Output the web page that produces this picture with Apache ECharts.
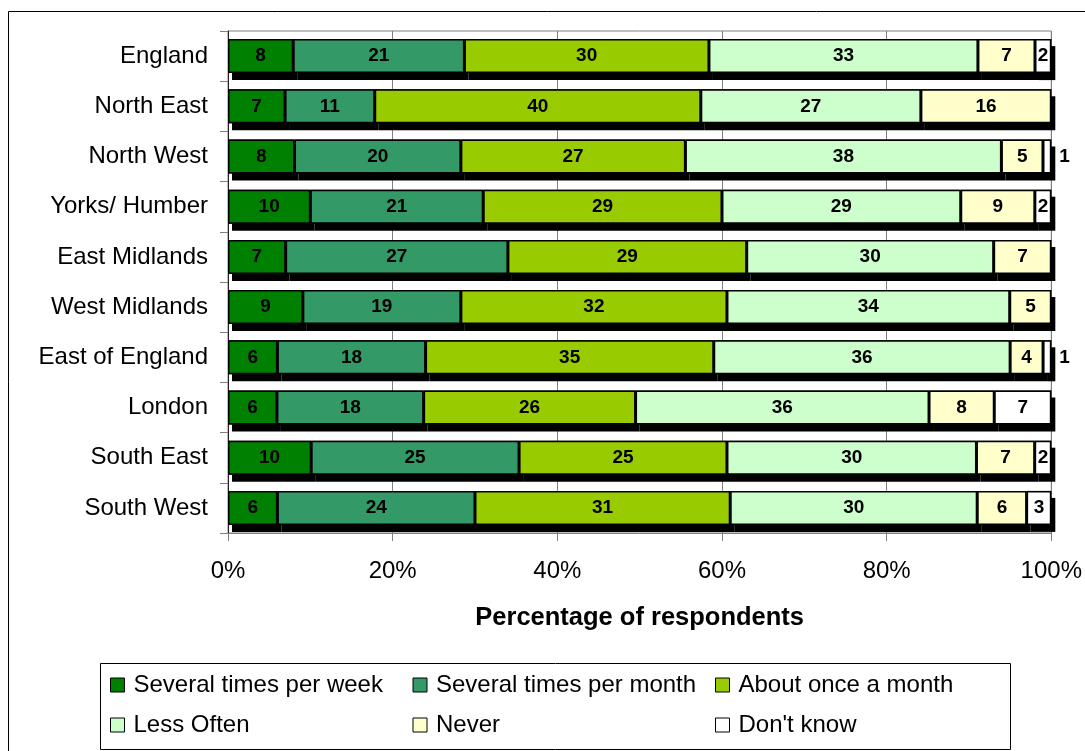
<!DOCTYPE html>
<html>
<head>
<meta charset="utf-8">
<script src="https://cdn.jsdelivr.net/npm/echarts@6/dist/echarts.min.js"></script>
<style>
  html, body { margin: 0; padding: 0; background: #fff; }
  #chart { width: 1085px; height: 751px; }
</style>
</head>
<body>
<div id="chart"></div>
<script>
// regions, top to bottom
const regions = ['England', 'North East', 'North West', 'Yorks/ Humber', 'East Midlands',
  'West Midlands', 'East of England', 'London', 'South East', 'South West'];

// percentages as labelled on the bars (null = no segment)
const severalWeek  = [8, 7, 8, 10, 7, 9, 6, 6, 10, 6];
const severalMonth = [21, 11, 20, 21, 27, 19, 18, 18, 25, 24];
const onceMonth    = [30, 40, 27, 29, 29, 32, 35, 26, 25, 31];
const lessOften    = [33, 27, 38, 29, 30, 34, 36, 36, 30, 30];
const never        = [7, 16, 5, 9, 7, 5, 4, 8, 7, 6];
const dontKnow     = [2, null, 1, 2, null, null, 1, 7, 2, 3];

const xTicks = [0, 20, 40, 60, 80, 100];

const seriesDefs = [
  { name: 'Several times per week', data: severalWeek, color: '#008000' },
  { name: 'Several times per month', data: severalMonth, color: '#339966' },
  { name: 'About once a month', data: onceMonth, color: '#99CC00' },
  { name: 'Less Often', data: lessOften, color: '#CCFFCC' },
  { name: 'Never', data: never, color: '#FFFFCC' },
  { name: "Don't know", data: dontKnow, color: '#FFFFFF' }
];

// row totals, bars are scaled to 100%
const totals = regions.map((_, i) =>
  seriesDefs.reduce((s, d) => s + (d.data[i] || 0), 0));

const scaled = (def) => def.data.map((v, i) =>
  v == null ? '-' : { value: v / totals[i] * 100, raw: v });

const chart = echarts.init(document.getElementById('chart'));

// black drop shadow layer (fill only, so the shadow does not hit the borders)
const shadowSeries = seriesDefs.map(def => ({
  name: def.name + ' shadow',
  type: 'bar',
  stack: 'shadow',
  barWidth: 34,
  barGap: '-100%',
  silent: true,
  itemStyle: {
    color: '#000',
    borderWidth: 0,
    shadowColor: '#000',
    shadowBlur: 0,
    shadowOffsetX: 4,
    shadowOffsetY: 7
  },
  data: scaled(def)
}));

const mainSeries = seriesDefs.map(def => ({
  name: def.name,
  type: 'bar',
  stack: 'main',
  barWidth: 34,
  barGap: '-100%',
  itemStyle: {
    color: def.color,
    borderColor: '#000',
    borderWidth: 1.5
  },
  label: {
    show: true,
    position: 'inside',
    color: '#000',
    fontFamily: 'Liberation Sans, Arial, sans-serif',
    fontWeight: 'bold',
    fontSize: 19,
    formatter: p => p.data.raw
  },
  data: scaled(def).map(item => {
    if (item !== '-' && item.raw === 1) item.label = { position: 'right', distance: 8 };
    return item;
  })
}));

const option = {
  animation: false,
  textStyle: { fontFamily: 'Liberation Sans, Arial, sans-serif' },
  grid: {
    left: 228,
    right: 33,
    top: 31,
    bottom: 218,
    show: true,
    borderColor: '#808080',
    borderWidth: 1
  },
  xAxis: {
    type: 'value',
    min: 0,
    max: 100,
    interval: 20,
    name: 'Percentage of respondents',
    nameLocation: 'middle',
    nameGap: 72,
    nameTextStyle: { color: '#000', fontSize: 25.5, fontWeight: 'bold' },
    axisLine: { show: true, lineStyle: { color: '#808080', width: 1 } },
    axisTick: { show: true, length: 8, lineStyle: { color: '#808080' } },
    axisLabel: {
      color: '#000',
      fontSize: 24,
      margin: 26,
      formatter: v => xTicks.includes(v) ? v + '%' : ''
    },
    splitLine: { show: true, lineStyle: { color: '#808080', width: 1 } }
  },
  yAxis: {
    type: 'category',
    data: regions,
    inverse: true,
    axisLine: { show: true, lineStyle: { color: '#222', width: 1 } },
    axisTick: { show: true, length: 8, lineStyle: { color: '#808080' } },
    axisLabel: { color: '#000', fontSize: 24, margin: 20 }
  },
  legend: {
    left: 110,
    top: 665,
    width: 920,
    itemGap: 0,
    itemWidth: 14,
    itemHeight: 14,
    icon: 'rect',
    padding: 0,
    itemStyle: { borderColor: '#000', borderWidth: 1 },
    textStyle: {
      color: '#000',
      fontSize: 24,
      width: 279,
      lineHeight: 40,
      padding: [0, 0, 0, 4]
    },
    data: seriesDefs.map(d => d.name)
  },
  graphic: [
    {
      type: 'rect',
      shape: { x: 8.5, y: 11.5, width: 1100, height: 760 },
      style: { fill: 'none', stroke: '#000', lineWidth: 1 },
      silent: true
    },
    {
      type: 'rect',
      shape: { x: 100.5, y: 663.5, width: 910, height: 86 },
      style: { fill: 'none', stroke: '#000', lineWidth: 1 },
      silent: true
    }
  ],
  series: shadowSeries.concat(mainSeries)
};

chart.setOption(option);
</script>
</body>
</html>
